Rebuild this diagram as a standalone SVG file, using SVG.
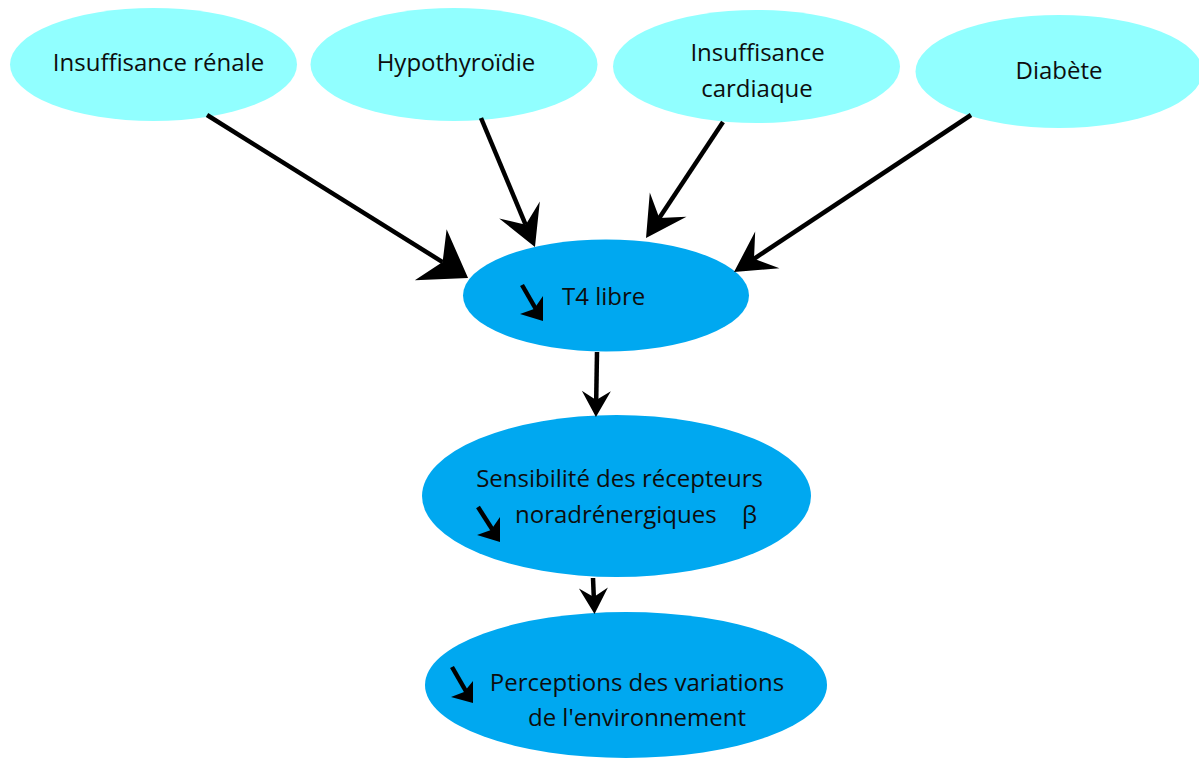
<svg xmlns="http://www.w3.org/2000/svg" width="1199" height="762" viewBox="0 0 1199 762">
<style>
.top{fill:#91FFFF}
.main{fill:#00A8F0}
text{font-family:"Open Sans","Noto Sans","Liberation Sans",sans-serif;font-size:24px;fill:#0d0d0d}
.m{text-anchor:middle}
.conn line{stroke:#000;stroke-width:4.5;fill:none}
.down{fill:#000}
.dshaft{stroke:#000;stroke-width:4.5;stroke-linecap:butt}
</style>
<defs>
<marker id="big" markerUnits="userSpaceOnUse" viewBox="-46 -32 48 64" refX="-30" refY="0" markerWidth="48" markerHeight="64" orient="auto">
<path d="M0,0 L-44,-30 L-30,0 L-44,30 Z" fill="#000"/>
</marker>
<marker id="med" markerUnits="userSpaceOnUse" viewBox="-42 -24 44 48" refX="-24" refY="0" markerWidth="44" markerHeight="48" orient="auto">
<path d="M0,0 L-40,-22 L-24,0 L-40,22 Z" fill="#000"/>
</marker>
<marker id="small" markerUnits="userSpaceOnUse" viewBox="-29 -16 31 32" refX="-17" refY="0" markerWidth="31" markerHeight="32" orient="auto">
<path d="M0,0 L-26,-14.5 L-17,0 L-26,14.5 Z" fill="#000"/>
</marker>
</defs>
<g id="node-insuffisance-renale">
<ellipse class="top" cx="153.5" cy="64.5" rx="143.5" ry="56.5"/>
<text class="m" x="158.5" y="71">Insuffisance rénale</text>
</g>
<g id="node-hypothyroidie">
<ellipse class="top" cx="454" cy="64.5" rx="143.5" ry="56.5"/>
<text class="m" x="456" y="71">Hypothyroïdie</text>
</g>
<g id="node-insuffisance-cardiaque">
<ellipse class="top" cx="756.5" cy="66.5" rx="143.5" ry="56.5"/>
<text class="m" x="757.5" y="61">Insuffisance</text>
<text class="m" x="757" y="97">cardiaque</text>
</g>
<g id="node-diabete">
<ellipse class="top" cx="1059" cy="71.5" rx="143.5" ry="56.5"/>
<text class="m" x="1059" y="79">Diabète</text>
</g>
<g id="node-t4">
<ellipse class="main" cx="606" cy="295.5" rx="143" ry="56"/>
<line class="dshaft" x1="522" y1="285" x2="537" y2="311"/>
<path class="down" d="M543,321 L520,314 L534,309 L543,296 Z"/>
<text x="562" y="305">T4 libre</text>
</g>
<g id="node-sensibilite">
<ellipse class="main" cx="616.5" cy="496" rx="194.5" ry="81"/>
<line class="dshaft" x1="478" y1="507" x2="494" y2="532"/>
<path class="down" d="M500,542 L477,535 L491,530 L500,517 Z"/>
<text class="m" x="619.5" y="487">Sensibilité des récepteurs</text>
<text x="515" y="523">noradrénergiques</text>
<text x="742" y="523">β</text>
</g>
<g id="node-perceptions">
<ellipse class="main" cx="626" cy="685" rx="201" ry="73"/>
<line class="dshaft" x1="452" y1="667" x2="467" y2="693"/>
<path class="down" d="M473,703 L451,697 L464,692 L473,681 Z"/>
<text class="m" x="637" y="691">Perceptions des variations</text>
<text class="m" x="637" y="726">de l'environnement</text>
</g>
<g id="connectors" class="conn">
<line x1="207" y1="115" x2="442.6" y2="262.1" marker-end="url(#big)"/>
<line x1="481" y1="118" x2="525.7" y2="224.8" marker-end="url(#med)"/>
<line x1="723" y1="122" x2="659.3" y2="218" marker-end="url(#med)"/>
<line x1="971" y1="115" x2="754" y2="258.8" marker-end="url(#med)"/>
<line x1="597" y1="352" x2="596.2" y2="400" marker-end="url(#small)"/>
<line x1="593" y1="578" x2="593.8" y2="597" marker-end="url(#small)"/>
</g>
</svg>
